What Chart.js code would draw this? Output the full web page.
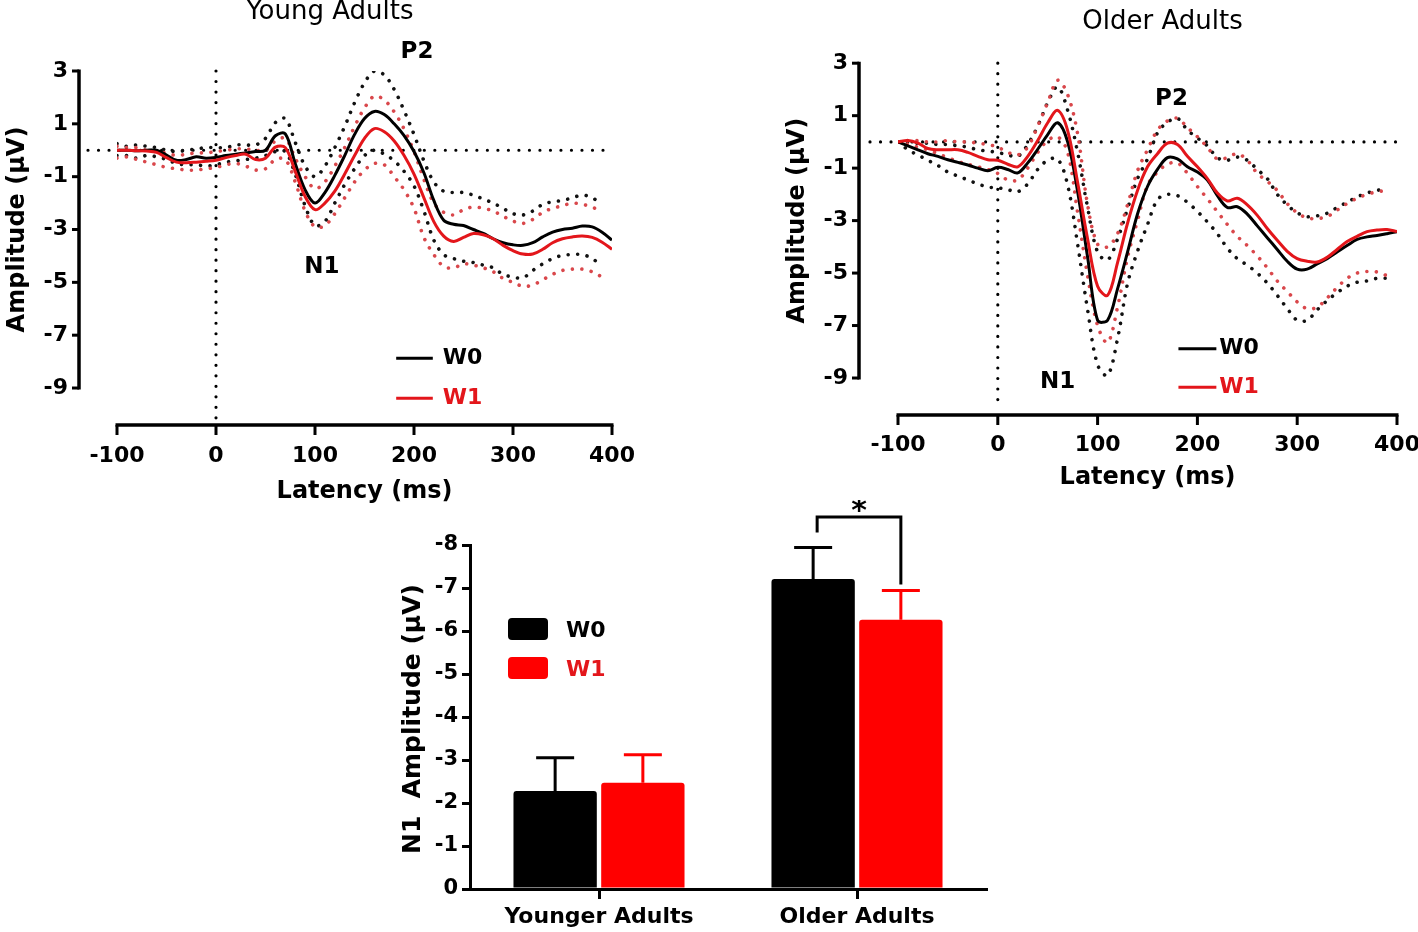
<!DOCTYPE html>
<html>
<head>
<meta charset="utf-8">
<script src="https://cdn.jsdelivr.net/npm/chart.js@4.4.1/dist/chart.umd.min.js"></script>
<style>
html,body{margin:0;padding:0;background:#fff;overflow:hidden;width:1418px;height:932px;}
.wrap{position:absolute;}
</style>
</head>
<body>
<div class="wrap" style="left:0;top:0;width:660px;height:510px"><canvas id="young"></canvas></div>
<div class="wrap" style="left:780px;top:0;width:660px;height:500px"><canvas id="older"></canvas></div>
<div class="wrap" style="left:390px;top:500px;width:620px;height:432px"><canvas id="bars"></canvas></div>
<script>
// ---------- DATA ----------
const latency = [-100,-90,-80,-70,-60,-50,-40,-30,-20,-10,0,10,20,30,40,50,60,70,80,90,100,110,120,130,140,150,160,170,180,190,200,210,220,230,240,250,260,270,280,290,300,310,320,330,340,350,360,370,380,390,400];
const erpXTicks = [-100,0,100,200,300,400];
const erpYTicks = [-9,-7,-5,-3,-1,1,3];

// Young adults
const youngW0 = [0.00,0.00,-0.02,0.00,0.00,-0.18,-0.38,-0.35,-0.25,-0.30,-0.27,-0.20,-0.15,-0.10,-0.05,0.00,0.55,0.62,-0.50,-1.50,-2.00,-1.60,-0.95,-0.20,0.60,1.20,1.47,1.35,1.00,0.55,-0.05,-0.85,-1.90,-2.65,-2.80,-2.85,-3.00,-3.15,-3.35,-3.50,-3.58,-3.60,-3.50,-3.28,-3.10,-3.00,-2.95,-2.87,-2.90,-3.10,-3.40];
const youngW1 = [0.00,0.00,-0.02,-0.03,-0.08,-0.28,-0.45,-0.47,-0.45,-0.42,-0.38,-0.28,-0.20,-0.15,-0.35,-0.30,0.12,0.10,-0.80,-1.75,-2.25,-2.00,-1.55,-0.90,-0.20,0.45,0.82,0.70,0.35,-0.20,-0.90,-1.80,-2.70,-3.25,-3.45,-3.30,-3.15,-3.20,-3.35,-3.60,-3.80,-3.93,-3.93,-3.75,-3.50,-3.35,-3.28,-3.25,-3.30,-3.48,-3.75];
const youngW0Hi = [0.25,0.15,0.20,0.15,0.10,0.00,-0.05,0.00,0.05,0.10,0.10,0.10,0.20,0.20,0.20,0.45,1.05,1.20,0.30,-0.60,-1.00,-0.60,0.10,0.90,1.80,2.55,3.00,2.85,2.30,1.50,0.60,-0.40,-1.20,-1.55,-1.60,-1.60,-1.70,-1.85,-2.00,-2.20,-2.40,-2.45,-2.30,-2.05,-1.95,-1.90,-1.80,-1.70,-1.80,-2.05,null];
const youngW0Lo = [-0.20,-0.20,-0.30,-0.20,-0.25,-0.35,-0.50,-0.55,-0.55,-0.60,-0.55,-0.45,-0.40,-0.35,-0.30,-0.20,-0.05,-0.05,-0.90,-2.10,-2.85,-2.70,-2.00,-1.30,-0.70,-0.20,0.00,-0.15,-0.40,-0.80,-1.35,-2.30,-3.40,-3.95,-4.10,-4.20,-4.25,-4.35,-4.45,-4.70,-4.80,-4.83,-4.55,-4.30,-4.10,-3.98,-3.95,-3.95,-4.10,-4.40,null];
const youngW1Hi = [0.15,0.10,0.10,0.00,-0.05,-0.10,-0.20,-0.15,-0.10,-0.10,-0.05,0.00,0.05,0.05,0.00,0.00,0.35,0.45,-0.30,-1.00,-1.45,-1.20,-0.60,0.10,0.90,1.60,2.05,1.90,1.45,0.80,-0.05,-1.10,-2.00,-2.35,-2.45,-2.25,-2.15,-2.20,-2.30,-2.50,-2.68,-2.77,-2.62,-2.35,-2.20,-2.10,-2.00,-2.05,-2.15,-2.35,null];
const youngW1Lo = [-0.30,-0.25,-0.35,-0.45,-0.55,-0.65,-0.70,-0.75,-0.75,-0.70,-0.65,-0.55,-0.50,-0.60,-0.75,-0.70,-0.35,-0.35,-1.20,-2.30,-2.90,-2.85,-2.40,-1.80,-1.20,-0.75,-0.50,-0.55,-1.00,-1.50,-2.20,-3.30,-3.95,-4.40,-4.45,-4.30,-4.35,-4.45,-4.60,-4.85,-5.00,-5.15,-5.10,-4.90,-4.70,-4.55,-4.50,-4.50,-4.60,-4.80,null];

// Older adults
const olderW0 = [0.00,-0.15,-0.30,-0.45,-0.55,-0.68,-0.78,-0.88,-1.00,-1.10,-0.97,-1.05,-1.18,-0.80,-0.28,0.28,0.73,0.00,-1.90,-4.40,-6.80,-6.80,-5.60,-4.20,-2.75,-1.70,-1.05,-0.60,-0.65,-0.95,-1.15,-1.45,-2.05,-2.50,-2.47,-2.75,-3.20,-3.65,-4.10,-4.55,-4.85,-4.85,-4.65,-4.45,-4.20,-3.95,-3.72,-3.62,-3.57,-3.50,-3.42];
const olderW1 = [0.00,0.05,-0.05,-0.25,-0.30,-0.30,-0.30,-0.40,-0.55,-0.68,-0.70,-0.85,-0.95,-0.55,0.05,0.73,1.20,0.43,-1.55,-3.70,-5.50,-5.85,-4.60,-3.10,-1.85,-0.95,-0.45,-0.05,-0.10,-0.55,-0.95,-1.40,-1.95,-2.25,-2.15,-2.40,-2.80,-3.30,-3.75,-4.17,-4.45,-4.55,-4.58,-4.40,-4.10,-3.80,-3.60,-3.42,-3.36,-3.34,-3.42];
const olderW0Hi = [0.00,0.00,-0.05,-0.05,-0.10,-0.10,-0.15,-0.20,-0.30,-0.35,-0.40,-0.50,-0.55,-0.10,0.60,1.50,2.10,1.20,-0.40,-2.50,-4.20,-4.50,-3.70,-2.55,-1.40,-0.65,0.35,0.75,0.90,0.45,0.15,-0.15,-0.60,-0.70,-0.58,-0.70,-1.05,-1.40,-2.00,-2.40,-2.70,-2.85,-2.82,-2.72,-2.50,-2.30,-2.10,-1.95,-1.85,-1.78,null];
const olderW0Lo = [0.00,-0.30,-0.50,-0.70,-0.90,-1.15,-1.30,-1.45,-1.60,-1.72,-1.75,-1.82,-1.90,-1.60,-1.05,-0.70,-0.65,-1.65,-3.90,-6.40,-8.50,-8.90,-7.50,-5.40,-4.17,-3.15,-2.20,-2.00,-2.05,-2.30,-2.65,-3.05,-3.50,-4.05,-4.45,-4.70,-5.00,-5.38,-5.85,-6.35,-6.80,-6.80,-6.40,-6.05,-5.75,-5.50,-5.35,-5.30,-5.20,-5.20,null];
const olderW1Hi = [0.00,0.05,0.05,0.00,0.00,0.05,0.00,0.00,-0.05,-0.10,-0.20,-0.40,-0.50,-0.20,0.60,1.50,2.35,1.80,0.30,-2.40,-3.90,-4.00,-3.50,-2.40,-1.10,-0.30,0.45,0.80,0.90,0.55,0.20,-0.20,-0.65,-0.60,-0.45,-0.70,-1.20,-1.50,-1.85,-2.35,-2.70,-2.90,-2.92,-2.85,-2.60,-2.35,-2.15,-2.00,-1.90,-1.85,null];
const olderW1Lo = [0.00,-0.10,-0.20,-0.30,-0.45,-0.60,-0.75,-0.85,-0.95,-1.05,-1.20,-1.45,-1.45,-1.00,-0.40,0.05,0.20,-0.40,-2.70,-5.10,-7.00,-7.65,-6.30,-4.40,-3.00,-1.65,-1.15,-0.85,-0.80,-1.20,-1.70,-2.17,-2.66,-3.15,-3.60,-3.95,-4.35,-4.80,-5.30,-5.70,-6.10,-6.36,-6.30,-5.95,-5.55,-5.20,-5.00,-4.94,-4.96,-5.10,null];

// N1 amplitude bar chart
const groups = ['Younger Adults','Older Adults'];
const n1W0 = [-2.28,-7.21];
const n1W0SE = [0.77,0.73];
const n1W1 = [-2.47,-6.26];
const n1W1SE = [0.65,0.68];
const barYTicks = [0,-1,-2,-3,-4,-5,-6,-7,-8];

// ---------- RENDERING ----------
Chart.defaults.font.family = "'DejaVu Sans', sans-serif";
Chart.defaults.color = '#000';
const FONT = "'DejaVu Sans', sans-serif";
const RED_LINE = '#e3161b';
const RED_DOT = '#d9474b';

function pts(arr){ return latency.map((t,i)=>({x:t,y:arr[i]})).filter(p=>p.y!==null); }

function text(ctx, s, x, y, font, color, align){
  ctx.save();
  ctx.font = font; ctx.fillStyle = color || '#000';
  ctx.textAlign = align || 'center'; ctx.textBaseline = 'middle';
  ctx.fillText(s, x, y);
  ctx.restore();
}

const erpDeco = {
  id: 'erpDeco',
  beforeDatasetsDraw(chart, args, o){
    const ctx = chart.ctx, a = chart.chartArea, x = chart.scales.x, y = chart.scales.y;
    ctx.save();
    ctx.strokeStyle = '#000'; ctx.lineWidth = 3.2; ctx.lineCap = 'round';
    ctx.setLineDash([0.01, 10.5]);
    const y0 = y.getPixelForValue(0);
    ctx.beginPath(); ctx.moveTo(a.left - o.zeroExt, y0); ctx.lineTo(x.getPixelForValue(x.max), y0); ctx.stroke();
    const x0 = x.getPixelForValue(0);
    ctx.beginPath(); ctx.moveTo(x0, a.top); ctx.lineTo(x0, a.bottom - 5); ctx.stroke();
    ctx.restore();
  },
  afterDraw(chart, args, o){
    const ctx = chart.ctx, a = chart.chartArea, x = chart.scales.x, y = chart.scales.y;
    ctx.save();
    ctx.strokeStyle = '#000'; ctx.lineCap = 'butt';
    const ax = a.left - o.yGap;
    const yt = y.getPixelForValue(erpYTicks[erpYTicks.length-1]);
    const yb = y.getPixelForValue(erpYTicks[0]);
    ctx.lineWidth = 3.5;
    ctx.beginPath(); ctx.moveTo(ax, yt - 1.5); ctx.lineTo(ax, yb + 1.5); ctx.stroke();
    ctx.lineWidth = 3;
    erpYTicks.forEach(v=>{ const p = y.getPixelForValue(v); ctx.beginPath(); ctx.moveTo(ax - 7, p); ctx.lineTo(ax, p); ctx.stroke(); });
    const xl = x.getPixelForValue(erpXTicks[0]);
    const xr = x.getPixelForValue(erpXTicks[erpXTicks.length-1]);
    ctx.lineWidth = 3.5;
    ctx.beginPath(); ctx.moveTo(xl - 1.5, a.bottom); ctx.lineTo(xr + 1.5, a.bottom); ctx.stroke();
    ctx.lineWidth = 3;
    erpXTicks.forEach(v=>{ const p = x.getPixelForValue(v); ctx.beginPath(); ctx.moveTo(p, a.bottom); ctx.lineTo(p, a.bottom + 10); ctx.stroke(); });
    ctx.restore();

    text(ctx, 'Latency (ms)', (a.left + a.right)/2, a.bottom + o.xTitleDy, 'bold 24px ' + FONT);
    ctx.save();
    ctx.translate(a.left - o.yTitleDx, y.getPixelForValue(-3));
    ctx.rotate(-Math.PI/2);
    text(ctx, 'Amplitude (\u00B5V)', 0, 0, 'bold 24px ' + FONT);
    ctx.restore();
    text(ctx, o.title, x.getPixelForValue(o.titleX), o.titleY, '26px ' + FONT);
    text(ctx, 'P2', x.getPixelForValue(o.p2[0]), y.getPixelForValue(o.p2[1]), 'bold 23px ' + FONT);
    text(ctx, 'N1', x.getPixelForValue(o.n1[0]), y.getPixelForValue(o.n1[1]), 'bold 23px ' + FONT);
    const L = o.legend;
    const lx1 = x.getPixelForValue(L.x1), lx2 = x.getPixelForValue(L.x2), tx = x.getPixelForValue(L.xt);
    [[L.y0, '#000', 'W0'], [L.y1, RED_LINE, 'W1']].forEach(r=>{
      const py = y.getPixelForValue(r[0]);
      ctx.save(); ctx.strokeStyle = r[1]; ctx.lineWidth = 3;
      ctx.beginPath(); ctx.moveTo(lx1, py); ctx.lineTo(lx2, py); ctx.stroke(); ctx.restore();
      text(ctx, r[2], tx, py, 'bold 22px ' + FONT, r[1], 'left');
    });
  }
};

function erpChart(id, s, o){
  const mean = (d, c, lbl)=>({label:lbl, data:pts(d), borderColor:c, borderWidth:3, pointRadius:0, tension:0.35, fill:false});
  const dots = (d, c, lbl)=>({label:lbl, data:pts(d), borderColor:c, borderWidth:3.6, borderDash:[0.01, 9.5], borderCapStyle:'round', pointRadius:0, tension:0.35, fill:false});
  return new Chart(document.getElementById(id), {
    type: 'line',
    data: { datasets: [
      mean(s.w1, RED_LINE, 'W1'),
      mean(s.w0, '#000', 'W0'),
      dots(s.w1Hi, RED_DOT, 'W1 +SEM'),
      dots(s.w1Lo, RED_DOT, 'W1 -SEM'),
      dots(s.w0Hi, '#111', 'W0 +SEM'),
      dots(s.w0Lo, '#111', 'W0 -SEM')
    ]},
    options: {
      responsive: true, maintainAspectRatio: false, animation: false,
      layout: { padding: { left: 0, right: o.padRight, top: o.padTop, bottom: 0 } },
      plugins: { legend: {display:false}, tooltip: {enabled:false}, erpDeco: o },
      scales: {
        x: { type:'linear', min: erpXTicks[0], max: erpXTicks[erpXTicks.length-1],
             afterBuildTicks: sc => { sc.ticks = erpXTicks.map(v=>({value:v})); },
             afterFit: sc => { sc.height = o.xHeight; },
             grid: {display:false, drawTicks:false}, border: {display:false},
             ticks: { color:'#000', font:{size:22, weight:'bold'}, padding: o.xPad, maxRotation:0, autoSkip:false } },
        y: { type:'linear', min: o.yMin, max: erpYTicks[erpYTicks.length-1],
             afterBuildTicks: sc => { sc.ticks = erpYTicks.map(v=>({value:v})); },
             afterFit: sc => { sc.width = o.yWidth; },
             grid: {display:false, drawTicks:false}, border: {display:false},
             ticks: { color:'#000', font:{size:22, weight:'bold'}, padding: o.yPad, autoSkip:false } }
      }
    },
    plugins: [erpDeco]
  });
}

erpChart('young', {w0:youngW0, w1:youngW1, w0Hi:youngW0Hi, w0Lo:youngW0Lo, w1Hi:youngW1Hi, w1Lo:youngW1Lo}, {
  padRight: 48, padTop: 71, xHeight: 85, yWidth: 117, yMin: -10.4, xPad: 18, yPad: 49,
  yGap: 38, zeroExt: 29, xTitleDy: 67, yTitleDx: 99,
  title: 'Young Adults', titleX: 115, titleY: 12,
  p2: [203, 3.72], n1: [107, -4.43],
  legend: { x1: 182, x2: 219, xt: 229, y0: -7.87, y1: -9.39 }
});

erpChart('older', {w0:olderW0, w1:olderW1, w0Hi:olderW0Hi, w0Lo:olderW0Lo, w1Hi:olderW1Hi, w1Lo:olderW1Lo}, {
  padRight: 43, padTop: 59, xHeight: 85, yWidth: 118, yMin: -10.41, xPad: 17, yPad: 50,
  yGap: 39, zeroExt: 28, xTitleDy: 63, yTitleDx: 100,
  title: 'Older Adults', titleX: 165, titleY: 22,
  p2: [174, 1.65], n1: [60, -9.15],
  legend: { x1: 181, x2: 219, xt: 222, y0: -7.88, y1: -9.35 }
});

// ---------- BAR CHART ----------
const barDeco = {
  id: 'barDeco',
  afterDatasetsDraw(chart){
    const ctx = chart.ctx, y = chart.scales.y;
    const sets = [[n1W0, n1W0SE, '#000'], [n1W1, n1W1SE, '#ff0000']];
    ctx.save(); ctx.lineWidth = 3; ctx.lineCap = 'butt';
    sets.forEach((s, di)=>{
      chart.getDatasetMeta(di).data.forEach((bar, i)=>{
        const top = y.getPixelForValue(s[0][i]);
        const cap = y.getPixelForValue(s[0][i] - s[1][i]);
        ctx.strokeStyle = s[2];
        ctx.beginPath();
        ctx.moveTo(bar.x, top); ctx.lineTo(bar.x, cap);
        ctx.moveTo(bar.x - 19, cap); ctx.lineTo(bar.x + 19, cap);
        ctx.stroke();
      });
    });
    ctx.restore();
  },
  afterDraw(chart){
    const ctx = chart.ctx, a = chart.chartArea, y = chart.scales.y;
    [[73, '#000', 'W0', '#000'], [112, '#ff0000', 'W1', '#e3161b']].forEach(r=>{
      ctx.save(); ctx.fillStyle = r[1];
      ctx.beginPath();
      if (ctx.roundRect) ctx.roundRect(a.left + 38, a.top + r[0], 40, 22, 4); else ctx.rect(a.left + 38, a.top + r[0], 40, 22);
      ctx.fill(); ctx.restore();
      text(ctx, r[2], a.left + 96, a.top + r[0] + 13, 'bold 22px ' + FONT, r[3], 'left');
    });
    ctx.save();
    ctx.translate(a.left - 57, (a.top + a.bottom)/2 + 2);
    ctx.rotate(-Math.PI/2);
    text(ctx, 'N1  Amplitude (\u00B5V)', 0, 0, 'bold 25px ' + FONT);
    ctx.restore();
    const b0 = chart.getDatasetMeta(0).data[1], b1 = chart.getDatasetMeta(1).data[1];
    const c0 = y.getPixelForValue(n1W0[1] - n1W0SE[1]);
    const c1 = y.getPixelForValue(n1W1[1] - n1W1SE[1]);
    const topY = a.top - 28;
    ctx.save(); ctx.strokeStyle = '#000'; ctx.lineWidth = 3; ctx.lineJoin = 'miter';
    ctx.beginPath();
    ctx.moveTo(b0.x + 4, c0 - 15); ctx.lineTo(b0.x + 4, topY); ctx.lineTo(b1.x, topY); ctx.lineTo(b1.x, c1 - 6);
    ctx.stroke(); ctx.restore();
    text(ctx, '*', (b0.x + 4 + b1.x)/2, a.top - 33, 'bold 30px ' + FONT);
  }
};

new Chart(document.getElementById('bars'), {
  type: 'bar',
  data: { labels: groups, datasets: [
    { label:'W0', data:n1W0, backgroundColor:'#000', borderRadius:3, categoryPercentage:0.68, barPercentage:0.95 },
    { label:'W1', data:n1W1, backgroundColor:'#ff0000', borderRadius:3, categoryPercentage:0.68, barPercentage:0.95 }
  ]},
  options: {
    responsive: true, maintainAspectRatio: false, animation: false,
    layout: { padding: { left: 0, right: 24, top: 45, bottom: 0 } },
    plugins: { legend:{display:false}, tooltip:{enabled:false} },
    scales: {
      x: { offset: true,
           afterFit: sc => { sc.height = 43; },
           grid: { display:true, drawOnChartArea:false, drawTicks:true, tickLength:10, color:'#000', lineWidth:3, offset:false },
           border: { display:true, color:'#000', width:3 },
           ticks: { color:'#000', font:{size:22, weight:'bold'}, padding:5, maxRotation:0 } },
      y: { min: -8, max: 0, reverse: true,
           afterBuildTicks: sc => { sc.ticks = barYTicks.map(v=>({value:v})); },
           afterFit: sc => { sc.width = 80; },
           grid: { display:true, drawOnChartArea:false, drawTicks:true, tickLength:8, color:'#000', lineWidth:3 },
           border: { display:true, color:'#000', width:3 },
           ticks: { color:'#000', font:{size:21, weight:'bold'}, padding:4 } }
    }
  },
  plugins: [barDeco]
});
</script>
</body>
</html>
